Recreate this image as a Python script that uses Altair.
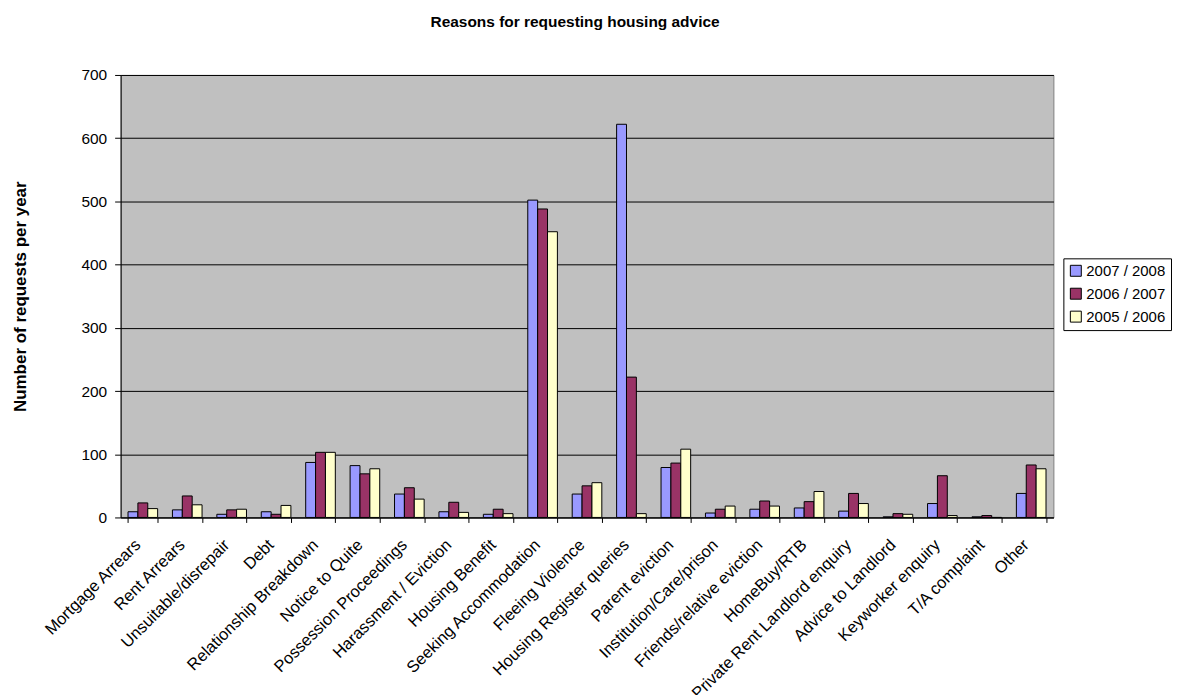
import altair as alt
import pandas as pd

categories = ["Mortgage Arrears", "Rent Arrears", "Unsuitable/disrepair", "Debt",
              "Relationship Breakdown", "Notice to Quite", "Possession Proceedings",
              "Harassment / Eviction", "Housing Benefit", "Seeking Accommodation",
              "Fleeing Violence", "Housing Register queries", "Parent eviction",
              "Institution/Care/prison", "Friends/relative eviction", "HomeBuy/RTB",
              "Private Rent Landlord enquiry", "Advice to Landlord", "Keyworker enquiry",
              "T/A complaint", "Other"]
series = ["2007 / 2008", "2006 / 2007", "2005 / 2006"]
v_2007_2008 = [9, 12, 5, 9, 87, 82, 37, 9, 5, 502, 37, 622, 79, 7, 13, 15, 10, 1, 22, 1, 38]
v_2006_2007 = [23, 34, 12, 5, 103, 69, 47, 24, 13, 488, 50, 222, 86, 13, 26, 25, 38, 6, 66, 3, 83]
v_2005_2006 = [14, 20, 13, 19, 103, 77, 29, 8, 6, 452, 55, 6, 108, 18, 18, 41, 22, 5, 3, 0, 77]
colors = ["#9999FF", "#993366", "#FFFFCC"]

rows = []
for s, vals in zip(series, [v_2007_2008, v_2006_2007, v_2005_2006]):
    for c, v in zip(categories, vals):
        rows.append({"category": c, "series": s, "value": v})
df = pd.DataFrame(rows)

FONT = "Liberation Sans"
FS = 15.5

bars = alt.Chart(df).mark_bar(stroke="#000000", strokeWidth=1).encode(
    x=alt.X("category:N", sort=categories,
            scale=alt.Scale(domain=categories, paddingInner=0.333, paddingOuter=0.1667,
                            round=False),
            axis=alt.Axis(labelAngle=-45, labelAlign="right", labelBaseline="top",
                          tickBand="extent", ticks=True, tickSize=5,
                          tickColor="#000000", domainColor="#000000", labelPadding=14,
                          labelOffset=-11, labelFontSize=16.5, labelFont=FONT,
                          labelColor="#000000", title=None, grid=False, labelLimit=400,
                          labelOverlap=False)),
    xOffset=alt.XOffset("series:N", sort=series),
    y=alt.Y("value:Q", scale=alt.Scale(domain=[0, 700]),
            axis=alt.Axis(values=[0, 100, 200, 300, 400, 500, 600, 700], grid=True,
                          gridColor="#000000", gridWidth=1, domainColor="#000000",
                          tickColor="#000000", tickSize=6, labelPadding=8, labelFontSize=FS,
                          labelColor="#000000", labelFont=FONT,
                          title="Number of requests per year", titleFont=FONT,
                          titleFontSize=17, titleFontWeight="bold", titleColor="#000000",
                          titlePadding=52)),
    color=alt.Color("series:N", sort=series,
                    scale=alt.Scale(domain=series, range=colors),
                    legend=alt.Legend(title=None, orient="none", legendX=946, legendY=184,
                                      symbolType="square", symbolSize=121,
                                      symbolStrokeColor="#000000", symbolStrokeWidth=1,
                                      labelFontSize=15, labelFont=FONT, labelColor="#000000",
                                      fillColor="#FFFFFF", strokeColor="#000000",
                                      padding=5, rowPadding=7, labelOffset=3)),
).properties(
    width=936, height=444,
    padding={"left": 3, "top": 5, "right": 0, "bottom": 0},
    title=alt.TitleParams("Reasons for requesting housing advice", font=FONT, fontSize=FS,
                          fontWeight="bold", color="#000000", offset=38, anchor="middle",
                          dx=-12),
).configure_view(fill="#C0C0C0", stroke="#808080", strokeWidth=1)

chart = bars
chart.save("out.html", embed_options={"renderer": "svg", "actions": False})
